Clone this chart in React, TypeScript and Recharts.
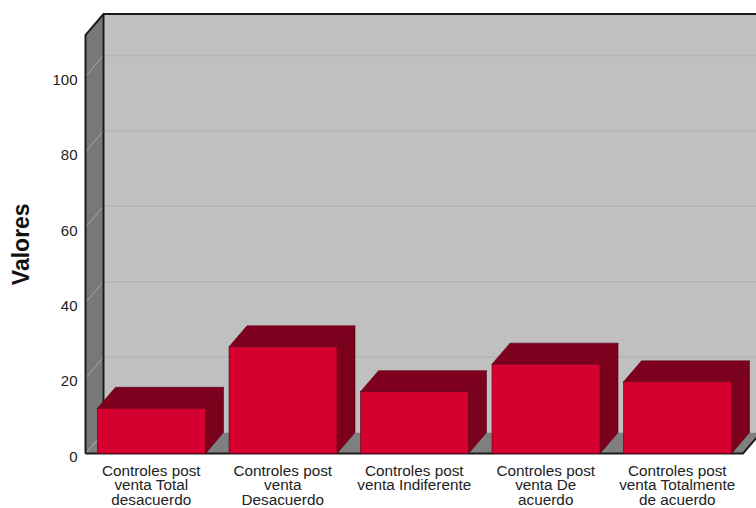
import { BarChart, Bar, XAxis, YAxis, ReferenceArea, ReferenceLine } from 'recharts'

const categories = [
  'Controles post venta Total desacuerdo',
  'Controles post venta Desacuerdo',
  'Controles post venta Indiferente',
  'Controles post venta De acuerdo',
  'Controles post venta Totalmente de acuerdo',
]
const categoryLines = [
  ['Controles post', 'venta Total', 'desacuerdo'],
  ['Controles post', 'venta', 'Desacuerdo'],
  ['Controles post', 'venta Indiferente'],
  ['Controles post', 'venta De', 'acuerdo'],
  ['Controles post', 'venta Totalmente', 'de acuerdo'],
]
const values = [12, 28.3, 16.4, 23.7, 19]
const yTicks = [0, 20, 40, 60, 80, 100]

const data = categories.map((name, i) => ({ name, value: values[i] }))

const DX = 18
const DY = 21
const FONT = '"Liberation Sans", Arial, sans-serif'

// front face plus the two receding faces of a bar
function Bar3D({ x, y, width, height }: any) {
  const r = x + width
  const b = y + height
  return (
    <g stroke="#5c0016" strokeWidth={0.6}>
      <polygon points={`${x},${y} ${x + DX},${y - DY} ${r + DX},${y - DY} ${r},${y}`} fill="#7f001e" />
      <polygon points={`${r},${y} ${r + DX},${y - DY} ${r + DX},${b - DY} ${r},${b}`} fill="#7a001c" />
      <rect x={x} y={y} width={width} height={height} fill="#d5002f" />
    </g>
  )
}

// back wall, side wall and floor of the box
function Walls({ x, y, width, height }: any) {
  const r = x + width
  const b = y + height
  return (
    <g>
      <rect x={x + DX} y={y - DY} width={width} height={height} fill="#c0c0c0" />
      <polygon points={`${x},${y} ${x + DX},${y - DY} ${x + DX},${b - DY} ${x},${b}`} fill="#787878" />
      <polygon points={`${x},${b} ${x + DX},${b - DY} ${r + DX},${b - DY} ${r},${b}`} fill="#808080" />
    </g>
  )
}

function BoxEdges({ x, y, width, height }: any) {
  const r = x + width
  const b = y + height
  const path = `M${x},${b} L${x},${y} L${x + DX},${y - DY} L${r + DX},${y - DY} M${x + DX},${y - DY} L${x + DX},${b - DY} M${x},${b} L${r},${b} L${r + DX},${b - DY}`
  return <path d={path} fill="none" stroke="#1c1c1c" strokeWidth={2} />
}

function GridLine({ x1, y1, x2, y2, floor }: any) {
  return (
    <g fill="none">
      <line x1={x1} y1={y1} x2={x1 + DX} y2={y1 - DY} stroke="#a6a6a6" strokeWidth={1} />
      {!floor && <line x1={x1 + DX} y1={y2 - DY} x2={x2 + DX} y2={y2 - DY} stroke="#b4b4b4" strokeWidth={1.5} />}
    </g>
  )
}

function CategoryTick({ x, y, index }: any) {
  return (
    <text x={x} y={y} textAnchor="middle" fontFamily={FONT} fontSize={15.3} fill="#222">
      {categoryLines[index].map((line, i) => (
        <tspan key={line} x={x} y={y + 14.7 * i + 14}>
          {line}
        </tspan>
      ))}
    </text>
  )
}

export default function App() {
  return (
    <div style={{ position: 'absolute', left: 0, top: 0, width: 756, height: 508, background: '#fff' }}>
      <BarChart
        width={756}
        height={508}
        data={data}
        margin={{ top: 35, right: 13, bottom: 0, left: 0 }}
      >
        <XAxis
          dataKey="name"
          axisLine={false}
          tickLine={false}
          interval={0}
          height={54.5}
          tick={<CategoryTick />}
        />
        <YAxis
          type="number"
          domain={[0, 111]}
          ticks={yTicks}
          axisLine={false}
          tickLine={false}
          width={85.5}
          tickMargin={2}
          tick={{ fontFamily: FONT, fontSize: 15, fill: '#222', dy: 3 }}
          label={{
            value: 'Valores',
            angle: -90,
            position: 'insideLeft',
            offset: 21,
            style: { fontFamily: FONT, fontSize: 23, fontWeight: 700, fill: '#111', textAnchor: 'middle' },
          }}
        />
        <ReferenceArea y1={0} y2={111} ifOverflow="visible" fill="none" stroke="none" zIndex={100} shape={<Walls />} />
        {yTicks.map((t) => (
          <ReferenceLine key={t} y={t} ifOverflow="visible" zIndex={110} shape={<GridLine floor={t === 0} />} />
        ))}
        <ReferenceArea y1={0} y2={111} ifOverflow="visible" fill="none" stroke="none" zIndex={120} shape={<BoxEdges />} />
        <Bar dataKey="value" barSize={108} shape={<Bar3D />} isAnimationActive={false} />
      </BarChart>
    </div>
  )
}
